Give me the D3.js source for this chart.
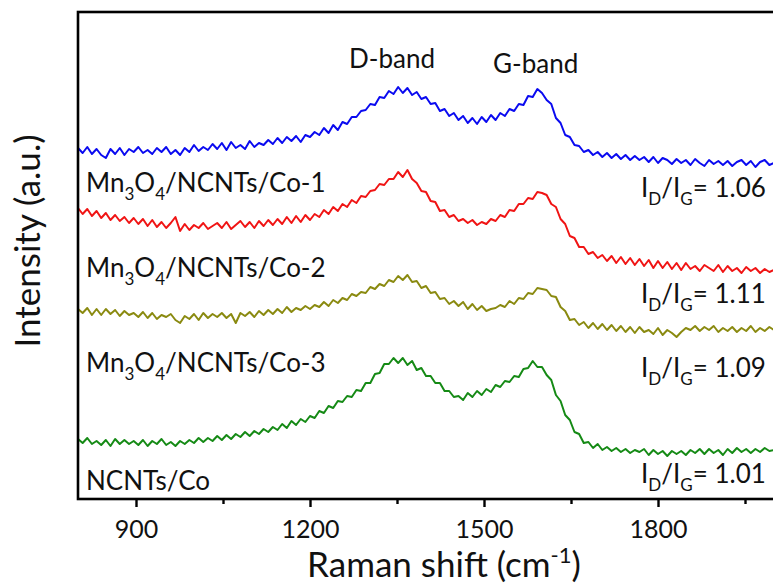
<!DOCTYPE html>
<html>
<head>
<meta charset="utf-8">
<script src="https://cdn.jsdelivr.net/npm/d3@7"></script>
<style>
  html, body { margin: 0; padding: 0; background: #fff; }
  svg { display: block; font-family: Lato, "Open Sans", sans-serif; }
</style>
</head>
<body>
<svg id="chart" width="773" height="586"></svg>
<script>
// Raman spectra, sampled every 8 cm-1 from 800 to 2000 (offset intensities, a.u.)
var co1 = [
  351, 346, 352, 345, 350, 344, 341, 350, 345, 351,
  344, 350, 347, 352, 346, 349, 345, 351, 347, 352,
  345, 349, 344, 351, 347, 354, 348, 352, 349, 355,
  350, 356, 349, 357, 351, 354, 350, 358, 352, 356,
  354, 359, 355, 361, 356, 362, 358, 363, 357, 364,
  362, 367, 364, 371, 366, 374, 369, 377, 375, 382,
  382, 388, 389, 395, 394, 402, 401, 408, 405, 412,
  406, 411, 404, 407, 400, 402, 395, 396, 388, 390,
  383, 386, 379, 383, 376, 381, 375, 382, 377, 384,
  379, 386, 383, 390, 388, 395, 394, 403, 402, 410,
  406, 399, 395, 381, 376, 364, 362, 354, 353, 347,
  349, 344, 347, 342, 346, 341, 345, 340, 344, 339,
  343, 339, 342, 337, 342, 336, 341, 339, 335, 340,
  336, 339, 334, 340, 336, 333, 339, 335, 338, 334,
  338, 333, 337, 339, 334, 338, 332, 337, 339, 334,
  336
];
var co2 = [
  291, 285, 290, 283, 288, 281, 286, 279, 284, 278,
  282, 276, 281, 275, 280, 273, 279, 272, 277, 271,
  276, 282, 268, 275, 269, 274, 271, 276, 270, 273,
  276, 271, 277, 270, 274, 278, 272, 277, 271, 278,
  273, 279, 274, 280, 275, 282, 276, 283, 277, 284,
  279, 285, 282, 289, 285, 292, 288, 295, 292, 299,
  296, 303, 302, 308, 309, 315, 314, 320, 320, 327,
  322, 329, 320, 316, 308, 307, 298, 297, 288, 289,
  282, 284, 278, 280, 276, 279, 274, 277, 275, 280,
  278, 284, 282, 289, 288, 295, 295, 301, 300, 307,
  306, 304, 295, 292, 280, 275, 263, 261, 252, 252,
  245, 247, 241, 244, 238, 243, 236, 242, 235, 241,
  234, 240, 233, 239, 231, 238, 231, 237, 230, 236,
  229, 236, 230, 233, 228, 234, 231, 228, 234, 227,
  233, 228, 231, 226, 232, 228, 231, 226, 230, 227,
  229
];
var co3 = [
  190, 186, 191, 184, 190, 184, 190, 185, 189, 183,
  188, 184, 186, 182, 187, 181, 186, 180, 184, 182,
  185, 179, 176, 183, 180, 185, 179, 186, 181, 185,
  182, 186, 181, 185, 176, 186, 183, 187, 182, 188,
  184, 189, 185, 190, 186, 192, 187, 191, 189, 193,
  190, 194, 192, 197, 193, 199, 196, 201, 199, 205,
  203, 207, 206, 212, 210, 215, 213, 219, 217, 223,
  219, 224, 217, 218, 211, 213, 206, 207, 200, 201,
  195, 198, 193, 197, 190, 195, 189, 193, 188, 190,
  191, 194, 192, 198, 195, 201, 200, 206, 205, 211,
  210, 209, 203, 202, 192, 188, 179, 180, 174, 177,
  171, 176, 170, 175, 169, 174, 168, 173, 167, 172,
  166, 172, 167, 169, 165, 171, 164, 169, 166, 162,
  167, 171, 169, 173, 168, 172, 169, 173, 167, 171,
  168, 172, 167, 171, 168, 173, 167, 171, 168, 172,
  169
];
var ncnt = [
  60, 56, 61, 55, 58, 54, 59, 53, 60, 55,
  59, 55, 58, 54, 59, 53, 58, 55, 60, 54,
  57, 53, 58, 55, 59, 56, 61, 57, 61, 58,
  63, 59, 64, 60, 65, 62, 67, 63, 68, 65,
  70, 67, 72, 69, 75, 71, 78, 74, 80, 77,
  83, 81, 88, 86, 93, 91, 98, 97, 103, 102,
  109, 108, 116, 116, 125, 126, 135, 135, 141, 136,
  141, 134, 138, 129, 131, 123, 123, 116, 116, 108,
  108, 102, 103, 99, 106, 102, 108, 104, 110, 107,
  114, 112, 118, 117, 123, 122, 130, 131, 138, 132,
  132, 124, 119, 104, 98, 84, 79, 67, 65, 56,
  57, 51, 55, 49, 52, 48, 51, 47, 50, 46,
  49, 47, 50, 44, 49, 45, 48, 43, 48, 45,
  48, 44, 49, 46, 50, 45, 50, 46, 49, 44,
  50, 46, 51, 47, 50, 46, 50, 47, 51, 48,
  49
];

var seriesData = [co1, co2, co3, ncnt];
var seriesNames = ["Co-1", "Co-2", "Co-3", ""];
var seriesColors = ["#0a0af0", "#f01414", "#8a8a10", "#158a15"];
var ratios = ["1.06", "1.11", "1.09", "1.01"];
var majorTicks = [900, 1200, 1500, 1800];
var minorTicks = [1050, 1350, 1650, 1950];
var bandNames = ["D-band", "G-band"];

var mLeft = 78, mTop = 12, mBottom = 499;

var svg = d3.select("#chart");

var x = d3.scaleLinear().domain([800, 2000]).range([mLeft, mLeft + 696]);
var y = d3.scaleLinear().domain([0, 487]).range([mBottom, mTop]);

var line = d3.line()
    .x(function (d, i) { return x(800 + 8 * i); })
    .y(function (d) { return y(d); });

var plot = svg.append("g");

plot.selectAll("path.trace")
    .data(seriesData)
    .enter()
    .append("path")
    .attr("class", "trace")
    .attr("d", line)
    .attr("fill", "none")
    .attr("stroke", function (d, i) { return seriesColors[i]; })
    .attr("stroke-width", 2)
    .attr("stroke-linejoin", "round");

// frame
svg.append("rect")
    .attr("x", mLeft)
    .attr("y", mTop)
    .attr("width", 720)
    .attr("height", mBottom - mTop)
    .attr("fill", "none")
    .attr("stroke", "#000")
    .attr("stroke-width", 2.6);

// axes
var xAxis = svg.append("g")
    .attr("transform", "translate(0," + mBottom + ")")
    .call(d3.axisBottom(x).tickValues(majorTicks).tickSize(8).tickPadding(13).tickFormat(d3.format("d")));
xAxis.select(".domain").remove();
xAxis.selectAll("line").attr("stroke-width", 2.4);
xAxis.selectAll("text").attr("font-size", 25).attr("font-family", "Lato, 'Open Sans', sans-serif").attr("fill", "#111");

var xMinor = svg.append("g")
    .attr("transform", "translate(0," + mBottom + ")")
    .call(d3.axisBottom(x).tickValues(minorTicks).tickSize(5).tickFormat(""));
xMinor.select(".domain").remove();
xMinor.selectAll("line").attr("stroke-width", 2.4);

// axis titles
var xTitle = svg.append("text")
    .attr("x", 444)
    .attr("y", 577)
    .attr("text-anchor", "middle")
    .attr("font-size", 35)
    .attr("fill", "#111");
xTitle.append("tspan").text("Raman shift (cm");
xTitle.append("tspan").attr("font-size", 22).attr("dy", -14).text("-1");
xTitle.append("tspan").attr("dy", 14).text(")");

svg.append("text")
    .attr("transform", "translate(40,241) rotate(-90)")
    .attr("text-anchor", "middle")
    .attr("font-size", 35)
    .attr("fill", "#111")
    .text("Intensity (a.u.)");

// band labels
svg.selectAll("text.band")
    .data(bandNames)
    .enter()
    .append("text")
    .attr("class", "band")
    .attr("x", function (d, i) { return [349, 493][i]; })
    .attr("y", function (d, i) { return [68, 73][i]; })
    .attr("font-size", 26)
    .attr("fill", "#111")
    .text(function (d) { return d; });

// sample labels
var nameY = [192, 277, 372, 490];
seriesNames.forEach(function (n, i) {
    var t = svg.append("text")
        .attr("x", 86)
        .attr("y", nameY[i])
        .attr("font-size", 26)
        .attr("fill", "#111");
    if (n) {
        t.append("tspan").text("Mn");
        t.append("tspan").attr("font-size", 17).attr("dy", 8).text("3");
        t.append("tspan").attr("dy", -8).text("O");
        t.append("tspan").attr("font-size", 17).attr("dy", 8).text("4");
        t.append("tspan").attr("dy", -8).text("/NCNTs/" + n);
    } else {
        t.text("NCNTs/Co");
    }
});

// I_D/I_G ratios
var ratioY = [197, 303, 377, 483];
ratios.forEach(function (r, i) {
    var t = svg.append("text")
        .attr("x", 641)
        .attr("y", ratioY[i])
        .attr("font-size", 26)
        .attr("fill", "#111");
    t.append("tspan").text("I");
    t.append("tspan").attr("font-size", 17).attr("dy", 8).text("D");
    t.append("tspan").attr("dy", -8).text("/I");
    t.append("tspan").attr("font-size", 17).attr("dy", 8).text("G");
    t.append("tspan").attr("dy", -8).text("= " + r);
});
</script>
</body>
</html>
